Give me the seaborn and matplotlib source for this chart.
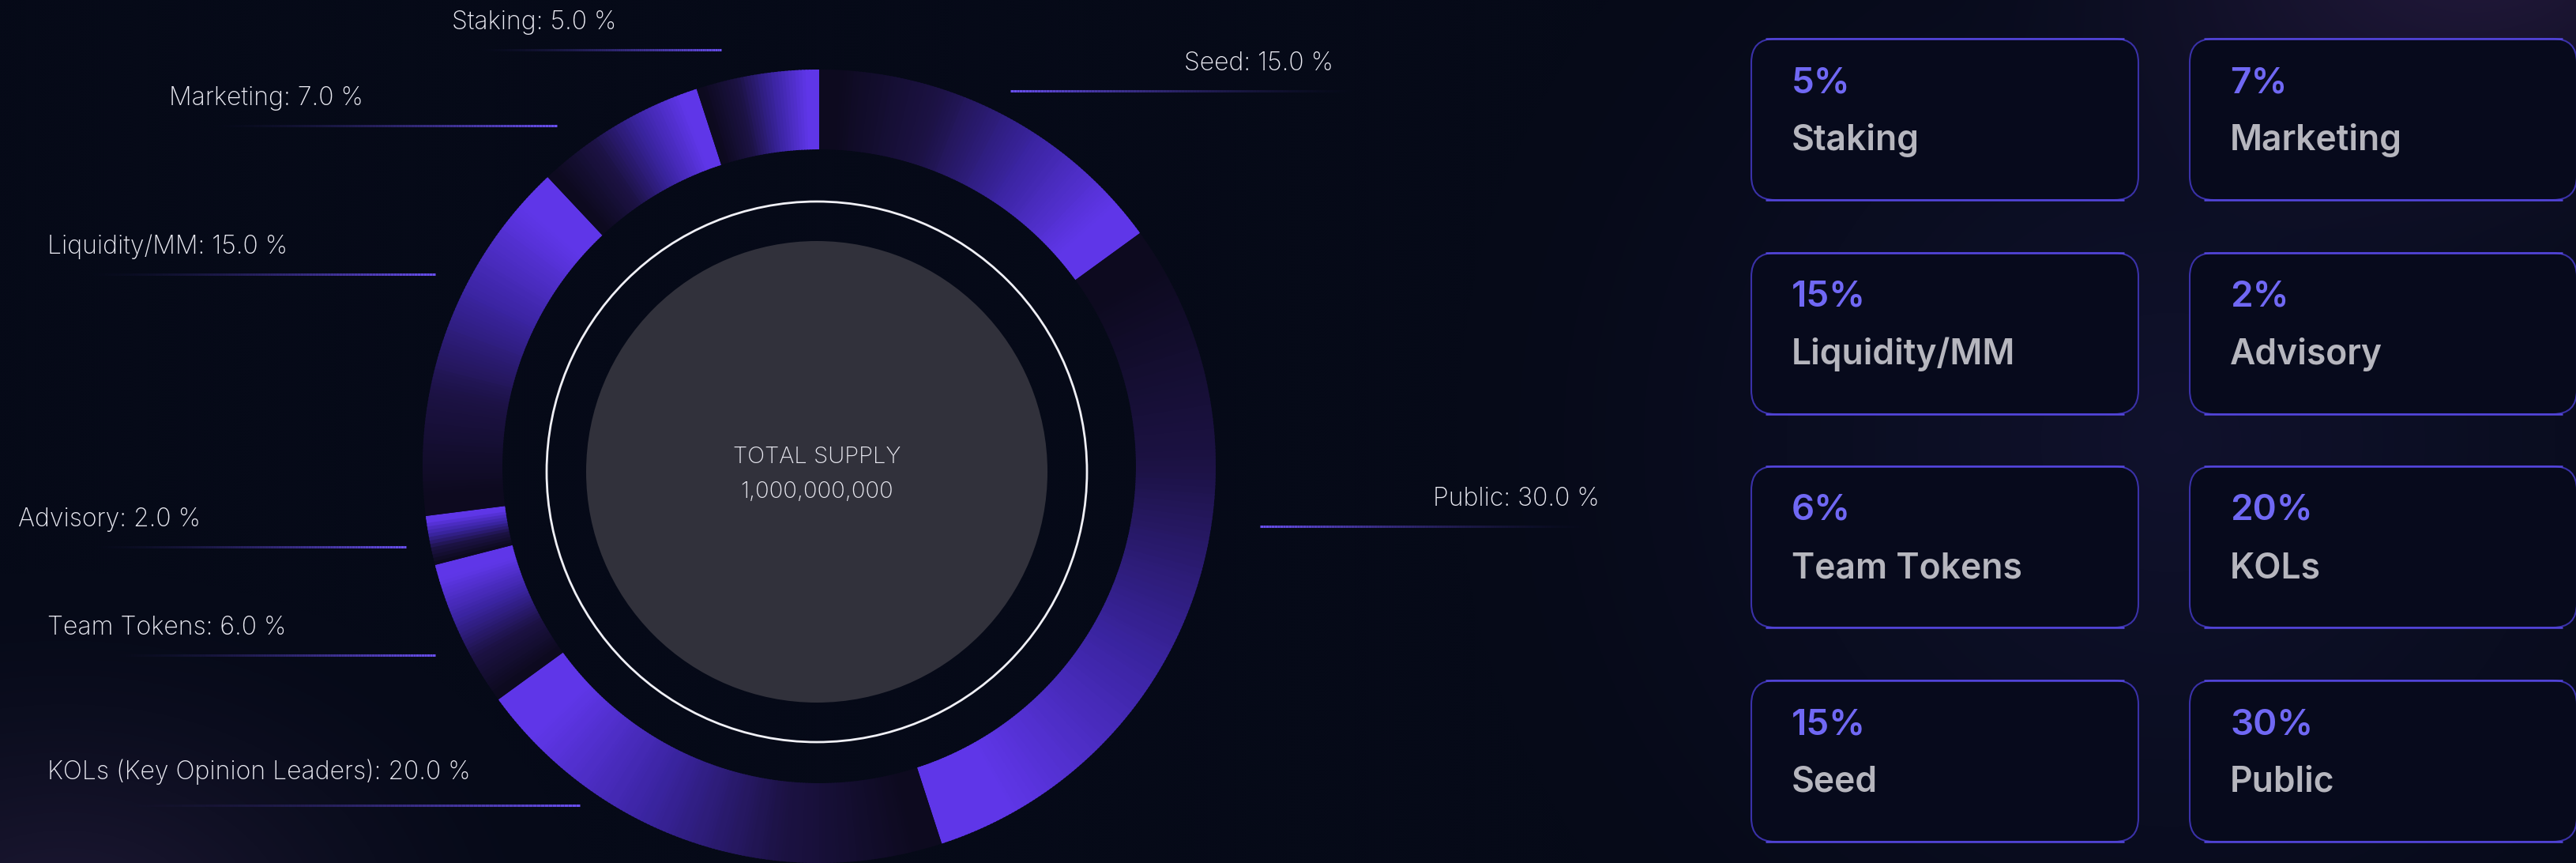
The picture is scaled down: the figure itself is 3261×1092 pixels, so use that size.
import numpy as np
import matplotlib
matplotlib.use("Agg")
import matplotlib.pyplot as plt
import seaborn as sns
from matplotlib.patches import Wedge, Circle, FancyBboxPatch
from matplotlib.collections import LineCollection
from matplotlib.colors import to_rgb

# token allocation, clockwise from 12 o'clock
names = ["Seed", "Public", "KOLs (Key Opinion Leaders)", "Team Tokens",
         "Advisory", "Liquidity/MM", "Marketing", "Staking"]
short_names = ["Seed", "Public", "KOLs", "Team Tokens",
               "Advisory", "Liquidity/MM", "Marketing", "Staking"]
shares = [15.0, 30.0, 20.0, 6.0, 2.0, 15.0, 7.0, 5.0]
card_order = ["Staking", "Marketing", "Liquidity/MM", "Advisory",
              "Team Tokens", "KOLs", "Seed", "Public"]
total_supply = 1000000000

# layout (pixels): label text x, text y, line x0, line x1, line y, side
label_pos = {
    "Staking": (572, 26, 596, 913, 63, "left"),
    "Marketing": (214, 122, 256, 705, 159, "left"),
    "Liquidity/MM": (60, 310, 98, 551, 347, "left"),
    "Advisory": (23, 655, 105, 514, 692, "left"),
    "Team Tokens": (60, 792, 133, 551, 829, "left"),
    "KOLs": (60, 975, 140, 734, 1019, "left"),
    "Seed": (1499, 78, 1279, 1730, 115, "right"),
    "Public": (1814, 629, 1595, 2024, 666, "right"),
}
W, H = 3261, 1092
ring_c = (1037, 590)
ring_r, ring_w = 502, 101
core_c = (1034, 597)

BG = "#060a18"
BRIGHT = "#5f36e8"
DARK = "#0d0a1f"
LINE = "#6a50f0"

sns.set_theme(style="dark")
plt.rcParams["font.family"] = ["Inter", "Lato", "DejaVu Sans"]

fig = plt.figure(figsize=(W / 100, H / 100), dpi=100)
fig.patch.set_facecolor(BG)
ax = fig.add_axes([0, 0, 1, 1])
ax.set_xlim(0, W)
ax.set_ylim(H, 0)
ax.axis("off")

# background with soft glows
gx, gy = np.meshgrid(np.linspace(0, W, 816), np.linspace(0, H, 273))
bg = np.ones((273, 816, 3)) * np.array(to_rgb(BG))
def glow(cx, cy, rx, ry, col, k):
    d = np.sqrt(((gx - cx) / rx) ** 2 + ((gy - cy) / ry) ** 2)
    return np.clip(1 - d, 0, 1)[..., None] ** k * np.array(col)
bg += glow(80, 1180, 650, 450, (0.10, 0.06, 0.12), 1.6)
bg += glow(3150, -80, 700, 450, (0.12, 0.06, 0.14), 1.6)
bg += glow(2750, 560, 900, 900, (0.04, 0.03, 0.08), 1.2)
ax.imshow(np.clip(bg, 0, 1), extent=(0, W, H, 0), interpolation="bicubic", zorder=0)

# donut ring with a gradient in each slice
ramp = sns.blend_palette([DARK, "#1c1244", "#3a24a0", BRIGHT], n_colors=101)
bounds = np.concatenate([[0], np.cumsum(shares)]) * 3.6
for i in range(len(shares)):
    a0, a1 = bounds[i], bounds[i + 1]
    n = max(12, int((a1 - a0) * 2))
    steps = np.linspace(a0, a1, n + 1)
    for j in range(n):
        t = (j + 0.5) / n
        t = np.clip((t - 0.05) / 0.85, 0, 1)
        col = ramp[int(round(t * 100))]
        e = 0.25 if j < n - 1 else 0
        wd = Wedge(ring_c, ring_r, steps[j] - 90, steps[j + 1] - 90 + e,
                   width=ring_w, facecolor=col, edgecolor="none", zorder=2)
        ax.add_patch(wd)

# center
ax.add_patch(Circle(core_c, 342, facecolor="none", edgecolor="#f0f0f6", lw=2.0, zorder=3))
ax.add_patch(Circle(core_c, 292, facecolor="#31313b", edgecolor="none", zorder=3))
ax.text(core_c[0], 578, "TOTAL SUPPLY", color="#e8e8f0", fontsize=21, fontweight="light",
        ha="center", va="center", zorder=4)
ax.text(core_c[0], 623, f"{total_supply:,}", color="#e8e8f0", fontsize=21, fontweight="light",
        ha="center", va="center", zorder=4)

# labels with fading leader lines
line_rgb = np.array(to_rgb(LINE))
for name, share, short in zip(names, shares, short_names):
    tx, ty, x0, x1, ly, side = label_pos[short]
    ax.text(tx, ty + 11, f"{name}: {share:.1f} %", color="#eaeaf2", fontsize=23,
            fontweight="light", ha="left", va="baseline", zorder=4)
    xs = np.linspace(x0, x1, 120)
    segs = [[(xs[k], ly), (xs[k + 1], ly)] for k in range(len(xs) - 1)]
    u = np.linspace(0, 1, len(segs))
    alpha = u ** 1.6 if side == "left" else (1 - u) ** 1.6
    cols = np.column_stack([np.tile(line_rgb, (len(segs), 1)), alpha])
    ax.add_collection(LineCollection(segs, colors=cols, linewidths=2.2, zorder=4))

# allocation cards
card_x = [2217, 2772]
card_y = [49, 320, 590, 861]
card_w, card_h, rad = 490, 204, 30
share_of = dict(zip(short_names, shares))
for k, name in enumerate(card_order):
    cx = card_x[k % 2]
    cy = card_y[k // 2]
    box = FancyBboxPatch((cx, cy), card_w, card_h,
                         boxstyle=f"round,pad=0,rounding_size={rad}",
                         facecolor="#070a1c", edgecolor="#3a31a8", lw=1.5, zorder=3)
    ax.add_patch(box)
    for yy in (cy, cy + card_h):
        ax.plot([cx + rad * 0.6, cx + card_w - rad * 0.6], [yy, yy],
                color="#5446dc", lw=1.8, zorder=3.5, solid_capstyle="butt")
    ax.text(cx + 51, cy + 68, f"{share_of[name]:.0f}%", color="#7068f4", fontsize=33,
            fontweight="semibold", ha="left", va="baseline", zorder=4)
    ax.text(cx + 51, cy + 141, name, color="#b6b6be", fontsize=32,
            fontweight="semibold", ha="left", va="baseline", zorder=4)

fig.savefig("out.png", dpi=100, facecolor=BG)
